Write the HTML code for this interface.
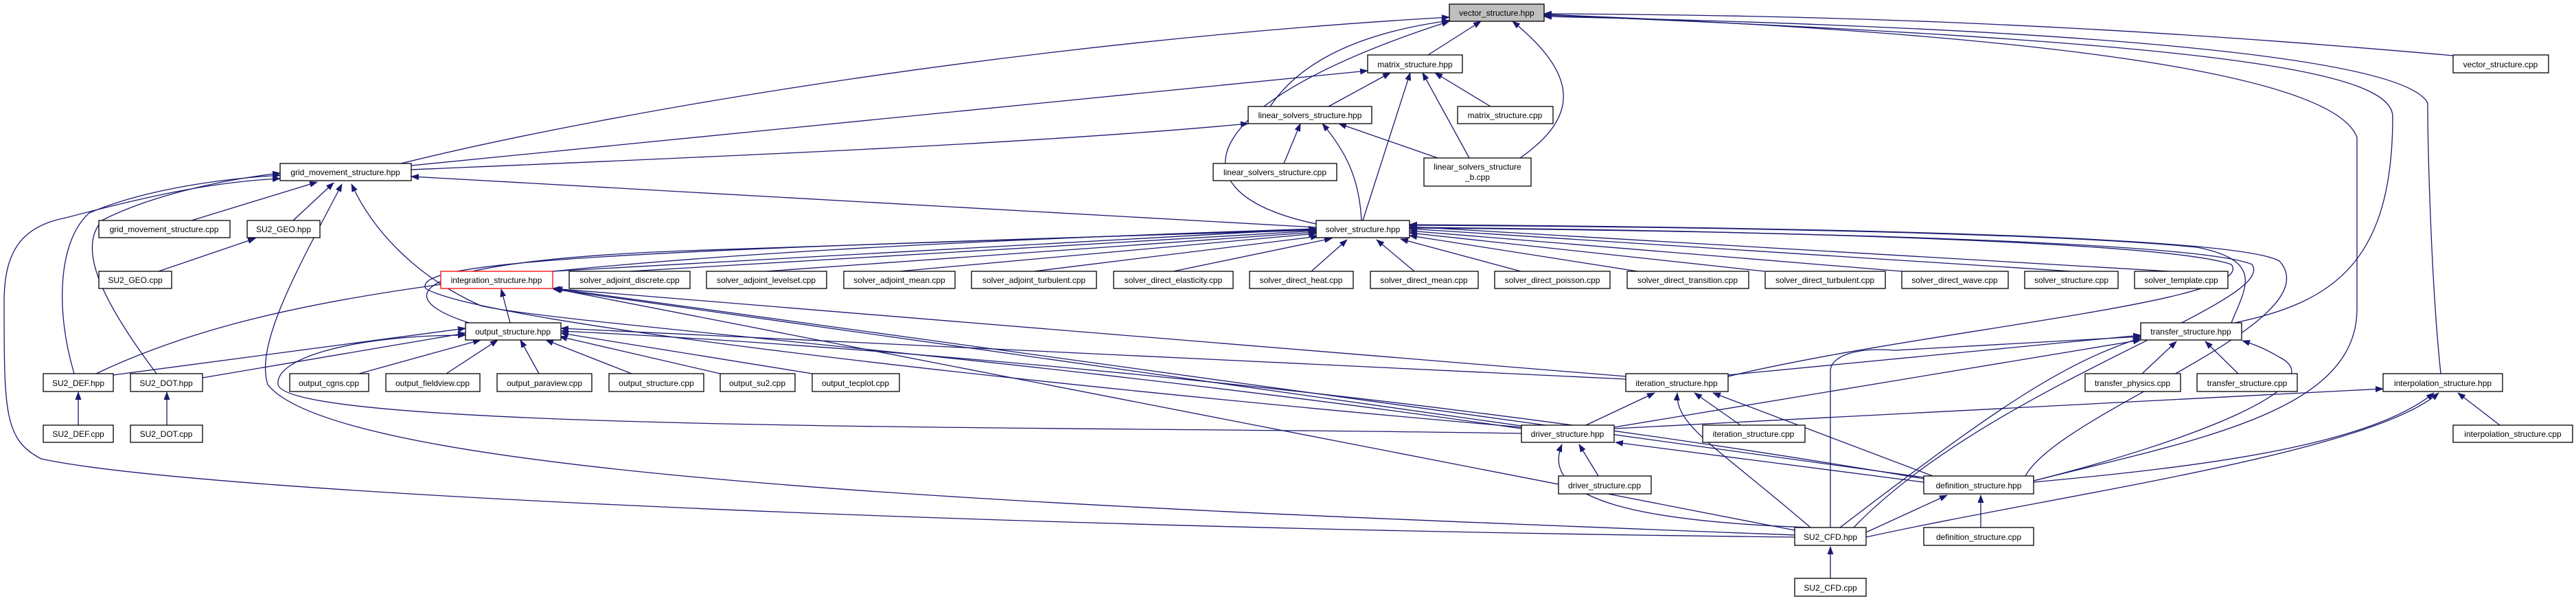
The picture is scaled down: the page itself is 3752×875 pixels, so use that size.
<!DOCTYPE html>
<html><head><meta charset="utf-8"><style>
html,body{margin:0;padding:0;background:#fff;}
svg{display:block;}
text{font-family:"Liberation Sans",sans-serif;font-size:12px;fill:#000;}
.e{fill:none;stroke:#191970;stroke-width:1.3;}
.n{fill:#fff;stroke:#000;stroke-width:1.3;}
</style></head><body>
<svg width="3752" height="875" viewBox="0 0 3752 875" xmlns="http://www.w3.org/2000/svg">
<defs>
<marker id="a" markerWidth="12" markerHeight="9" refX="11" refY="4.5" orient="auto" markerUnits="userSpaceOnUse">
<path d="M0,0 L12,4.5 L0,9 Z" fill="#191970"/>
</marker>
</defs>
<g class="e" marker-end="url(#a)">
<path d="M584,238 C900,160 1500,60 2111,25"/>
<path d="M599,241 L1992,103"/>
<path d="M599,247 C1000,230 1500,210 1818,180"/>
<path d="M1917,331 L599,257"/>
<path d="M1850,155 C1900,80 2000,45 2111,30"/>
<path d="M2080,80 L2157,31"/>
<path d="M1935,155 L2025,106"/>
<path d="M1985,321 L2054,106"/>
<path d="M2140,230 L2072,106"/>
<path d="M2171,155 L2090,106"/>
<path d="M2214,230 C2300,170 2300,110 2203,31"/>
<path d="M1870,238 L1894,180"/>
<path d="M1983,321 C1980,260 1960,220 1926,180"/>
<path d="M2094,230 L1950,180"/>
<path d="M1917,326 C1700,280 1740,150 2111,31"/>
<path d="M3573,81 C3000,30 2600,22 2249,20"/>
<path d="M3255,470 C3400,440 3485,380 3485,170 C3485,100 3200,60 2249,22"/>
<path d="M3555,544 C3540,400 3536,200 3536,150 C3500,80 3000,40 2249,24"/>
<path d="M2962,700 C3200,640 3433,600 3433,450 L3433,200 C3400,110 3000,50 2249,21"/>

<path d="M805,395 L1917,333"/>
<path d="M917,395 L1917,336"/>
<path d="M1116,395 L1917,338"/>
<path d="M1310,395 L1917,340"/>
<path d="M1506,395 L1920,344"/>
<path d="M1709,395 L1940,347"/>
<path d="M1910,395 L1962,349"/>
<path d="M2060,395 L2005,349"/>
<path d="M2215,395 L2040,348"/>
<path d="M2385,395 L2053,343"/>
<path d="M2570,395 L2053,339"/>
<path d="M2770,395 L2053,336"/>
<path d="M3017,395 L2053,333"/>
<path d="M3160,395 L2053,330"/>
<path d="M3250,470 C3270,420 3300,380 3200,360 C3000,340 2500,330 2053,328"/>
<path d="M2517,548 C2800,480 3290,440 3250,385 C3150,350 2500,335 2053,331"/>
<path d="M2700,768 C2900,560 3320,440 3280,385 C3200,350 2500,335 2053,332"/>
<path d="M2950,693 C3000,600 3400,470 3320,380 C3250,340 2500,330 2053,327"/>
<path d="M683,470 C560,430 600,380 1000,365 L1917,334"/>
<path d="M140,544 C400,420 800,370 1917,333"/>
<path d="M2216,622 C1500,560 700,470 620,420 C600,380 900,365 1917,335"/>

<path d="M2368,548 L805,420"/>
<path d="M2216,620 L806,421"/>
<path d="M2802,695 L808,420"/>
<path d="M2614,772 L806,420"/>
<path d="M743,470 L730,421"/>

<path d="M165,546 L678,478"/>
<path d="M295,550 L678,485"/>
<path d="M523,544 L700,495"/>
<path d="M650,544 L725,495"/>
<path d="M785,544 L758,495"/>
<path d="M920,544 L795,495"/>
<path d="M1049,544 L815,490"/>
<path d="M1183,544 L817,485"/>
<path d="M2368,552 L817,478"/>
<path d="M2802,697 C2000,560 1200,500 817,482"/>
<path d="M2216,631 C1600,620 420,630 405,560 C400,520 520,488 678,488"/>

<path d="M2614,779 C1600,740 500,700 390,560 C370,500 440,380 498,268"/>
<path d="M2614,782 C1500,770 300,720 60,668 C6,640 6,600 6,440 C6,367 30,330 96,317 C200,290 300,265 408,260"/>
<path d="M108,544 C80,450 85,350 130,310 C200,280 300,262 408,255"/>
<path d="M228,544 C150,440 110,360 150,320 C220,285 320,262 408,252"/>
<path d="M2216,624 C1500,520 800,470 700,445 C600,400 540,330 512,268"/>
<path d="M279,321 L462,265"/>
<path d="M427,321 L486,266"/>
<path d="M231,395 L372,347"/>
<path d="M114,619 L114,571"/>
<path d="M243,619 L243,571"/>

<path d="M2517,546 L3118,488"/>
<path d="M2351,622 L3118,495"/>
<path d="M2680,768 C2900,600 3000,530 3118,492"/>
<path d="M2962,700 C3200,640 3400,560 3320,520 C3300,508 3285,502 3266,496"/>
<path d="M2718,775 L2836,721"/>
<path d="M3120,544 L3170,497"/>
<path d="M3260,544 L3212,497"/>
<path d="M3641,619 L3580,572"/>
<path d="M2962,702 C3200,680 3450,650 3545,572"/>
<path d="M2718,782 C3000,720 3450,660 3552,572"/>
<path d="M2351,624 L3471,566"/>
<path d="M2885,768 L2885,721"/>
<path d="M2666,842 L2666,796"/>
<path d="M2328,693 L2300,647"/>
<path d="M2637,768 C2400,760 2240,730 2275,647"/>
<path d="M2802,702 L2353,644"/>
<path d="M2637,768 C2500,650 2440,620 2443,572"/>
<path d="M2815,693 L2495,572"/>
<path d="M2535,619 L2468,572"/>
<path d="M2310,619 L2410,572"/>
<path d="M2666,768 L2666,540 C2666,520 2700,505 2760,510 L3118,490"/>
</g>

<g>
<rect class="n" x="2111" y="6" width="138" height="25" style="fill:#bfbfbf"/><text x="2180" y="23" text-anchor="middle">vector_structure.hpp</text>
<rect class="n" x="1992" y="80" width="138" height="26"/><text x="2061" y="98" text-anchor="middle">matrix_structure.hpp</text>
<rect class="n" x="3573" y="80" width="139" height="26"/><text x="3642" y="98" text-anchor="middle">vector_structure.cpp</text>
<rect class="n" x="1818" y="155" width="180" height="25"/><text x="1908" y="172" text-anchor="middle">linear_solvers_structure.hpp</text>
<rect class="n" x="2123" y="155" width="139" height="25"/><text x="2192" y="172" text-anchor="middle">matrix_structure.cpp</text>
<rect class="n" x="408" y="238" width="191" height="25"/><text x="503" y="255" text-anchor="middle">grid_movement_structure.hpp</text>
<rect class="n" x="1767" y="238" width="180" height="25"/><text x="1857" y="255" text-anchor="middle">linear_solvers_structure.cpp</text>
<rect class="n" x="2074" y="230" width="156" height="41"/><text x="2152" y="247" text-anchor="middle">linear_solvers_structure</text><text x="2152" y="262" text-anchor="middle">_b.cpp</text>
<rect class="n" x="144" y="321" width="191" height="25"/><text x="239" y="338" text-anchor="middle">grid_movement_structure.cpp</text>
<rect class="n" x="360" y="321" width="106" height="25"/><text x="413" y="338" text-anchor="middle">SU2_GEO.hpp</text>
<rect class="n" x="1917" y="321" width="136" height="25"/><text x="1985" y="338" text-anchor="middle">solver_structure.hpp</text>
<rect class="n" x="144" y="395" width="106" height="25"/><text x="197" y="412" text-anchor="middle">SU2_GEO.cpp</text>
<rect class="n" x="642" y="395" width="163" height="25" style="stroke:#ff0000"/><text x="723" y="412" text-anchor="middle">integration_structure.hpp</text>
<rect class="n" x="829" y="395" width="176" height="25"/><text x="917" y="412" text-anchor="middle">solver_adjoint_discrete.cpp</text>
<rect class="n" x="1029" y="395" width="175" height="25"/><text x="1116" y="412" text-anchor="middle">solver_adjoint_levelset.cpp</text>
<rect class="n" x="1229" y="395" width="162" height="25"/><text x="1310" y="412" text-anchor="middle">solver_adjoint_mean.cpp</text>
<rect class="n" x="1415" y="395" width="182" height="25"/><text x="1506" y="412" text-anchor="middle">solver_adjoint_turbulent.cpp</text>
<rect class="n" x="1622" y="395" width="174" height="25"/><text x="1709" y="412" text-anchor="middle">solver_direct_elasticity.cpp</text>
<rect class="n" x="1820" y="395" width="151" height="25"/><text x="1895" y="412" text-anchor="middle">solver_direct_heat.cpp</text>
<rect class="n" x="1996" y="395" width="157" height="25"/><text x="2074" y="412" text-anchor="middle">solver_direct_mean.cpp</text>
<rect class="n" x="2177" y="395" width="168" height="25"/><text x="2261" y="412" text-anchor="middle">solver_direct_poisson.cpp</text>
<rect class="n" x="2370" y="395" width="177" height="25"/><text x="2458" y="412" text-anchor="middle">solver_direct_transition.cpp</text>
<rect class="n" x="2571" y="395" width="175" height="25"/><text x="2658" y="412" text-anchor="middle">solver_direct_turbulent.cpp</text>
<rect class="n" x="2770" y="395" width="155" height="25"/><text x="2847" y="412" text-anchor="middle">solver_direct_wave.cpp</text>
<rect class="n" x="2949" y="395" width="136" height="25"/><text x="3017" y="412" text-anchor="middle">solver_structure.cpp</text>
<rect class="n" x="3109" y="395" width="136" height="25"/><text x="3177" y="412" text-anchor="middle">solver_template.cpp</text>
<rect class="n" x="678" y="470" width="139" height="25"/><text x="747" y="487" text-anchor="middle">output_structure.hpp</text>
<rect class="n" x="3118" y="470" width="147" height="25"/><text x="3191" y="487" text-anchor="middle">transfer_structure.hpp</text>
<rect class="n" x="63" y="544" width="102" height="26"/><text x="114" y="562" text-anchor="middle">SU2_DEF.hpp</text>
<rect class="n" x="190" y="544" width="105" height="26"/><text x="242" y="562" text-anchor="middle">SU2_DOT.hpp</text>
<rect class="n" x="422" y="544" width="115" height="26"/><text x="479" y="562" text-anchor="middle">output_cgns.cpp</text>
<rect class="n" x="562" y="544" width="137" height="26"/><text x="630" y="562" text-anchor="middle">output_fieldview.cpp</text>
<rect class="n" x="724" y="544" width="138" height="26"/><text x="793" y="562" text-anchor="middle">output_paraview.cpp</text>
<rect class="n" x="887" y="544" width="138" height="26"/><text x="956" y="562" text-anchor="middle">output_structure.cpp</text>
<rect class="n" x="1049" y="544" width="109" height="26"/><text x="1103" y="562" text-anchor="middle">output_su2.cpp</text>
<rect class="n" x="1183" y="544" width="127" height="26"/><text x="1246" y="562" text-anchor="middle">output_tecplot.cpp</text>
<rect class="n" x="2368" y="544" width="149" height="26"/><text x="2442" y="562" text-anchor="middle">iteration_structure.hpp</text>
<rect class="n" x="3037" y="544" width="139" height="26"/><text x="3106" y="562" text-anchor="middle">transfer_physics.cpp</text>
<rect class="n" x="3200" y="544" width="146" height="26"/><text x="3273" y="562" text-anchor="middle">transfer_structure.cpp</text>
<rect class="n" x="3471" y="544" width="174" height="26"/><text x="3558" y="562" text-anchor="middle">interpolation_structure.hpp</text>
<rect class="n" x="63" y="619" width="102" height="25"/><text x="114" y="636" text-anchor="middle">SU2_DEF.cpp</text>
<rect class="n" x="190" y="619" width="105" height="25"/><text x="242" y="636" text-anchor="middle">SU2_DOT.cpp</text>
<rect class="n" x="2216" y="619" width="135" height="25"/><text x="2283" y="636" text-anchor="middle">driver_structure.hpp</text>
<rect class="n" x="2480" y="619" width="149" height="25"/><text x="2554" y="636" text-anchor="middle">iteration_structure.cpp</text>
<rect class="n" x="3573" y="619" width="174" height="25"/><text x="3660" y="636" text-anchor="middle">interpolation_structure.cpp</text>
<rect class="n" x="2270" y="693" width="135" height="26"/><text x="2337" y="711" text-anchor="middle">driver_structure.cpp</text>
<rect class="n" x="2802" y="693" width="160" height="26"/><text x="2882" y="711" text-anchor="middle">definition_structure.hpp</text>
<rect class="n" x="2614" y="768" width="104" height="26"/><text x="2666" y="786" text-anchor="middle">SU2_CFD.hpp</text>
<rect class="n" x="2802" y="768" width="160" height="26"/><text x="2882" y="786" text-anchor="middle">definition_structure.cpp</text>
<rect class="n" x="2614" y="842" width="104" height="26"/><text x="2666" y="860" text-anchor="middle">SU2_CFD.cpp</text>
</g>
</svg>
</body></html>
